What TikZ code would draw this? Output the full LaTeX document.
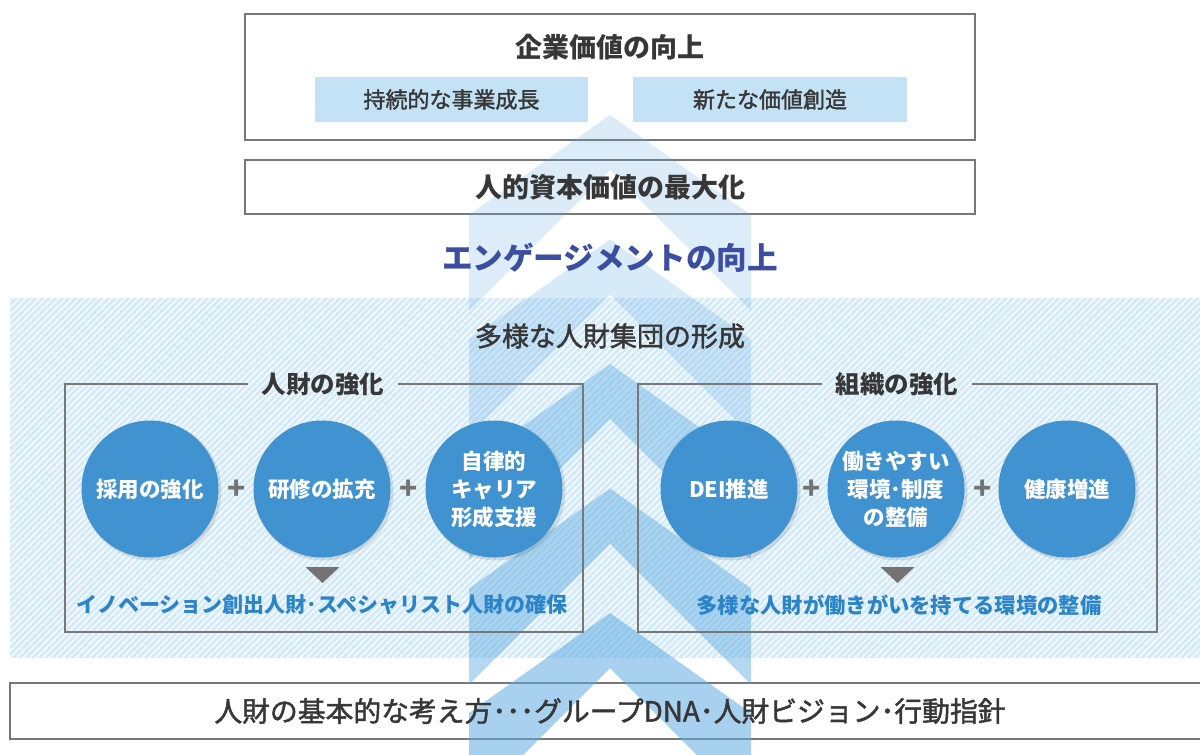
\documentclass[tikz,border=0pt]{standalone}
\usepackage{fontspec}
\setmainfont{Noto Sans CJK JP}
\newfontfamily\jpmed{Noto Sans CJK JP}[FakeBold=1.6]
\usetikzlibrary{calc}
\definecolor{boxgray}{RGB}{120,120,120}
\definecolor{txt}{RGB}{55,55,55}
\definecolor{subblue}{RGB}{196,226,245}
\definecolor{hatchbg}{RGB}{210,233,248}
\definecolor{chevc}{RGB}{95,172,226}
\definecolor{circblue}{RGB}{64,146,208}
\definecolor{engblue}{RGB}{60,78,160}
\definecolor{grpblue}{RGB}{44,132,200}
\definecolor{trigray}{RGB}{115,115,115}
\tikzset{
  box/.style={draw=boxgray, line width=1.3pt, fill=white, inner sep=0pt},
  subbox/.style={fill=subblue, inner sep=0pt, minimum width=273pt, minimum height=45pt},
  circ/.style={circle, fill=circblue, minimum size=137pt, inner sep=0pt},
  circtxt/.style={text=white, font=\bfseries\fontsize{21.5}{28}\selectfont, align=center},
  lbl/.style={text=txt, inner sep=0pt},
  grptitle/.style={text=txt, font=\bfseries\fontsize{24.5}{28}\selectfont, inner sep=14pt},
  grpline/.style={draw=boxgray, line width=1.1pt},
  plussign/.style={text=trigray, font=\bfseries\fontsize{30}{30}\selectfont, inner sep=0pt},
  grptxt/.style={text=grpblue, font=\bfseries\fontsize{21}{24}\selectfont, inner sep=0pt},
}
\begin{document}
\begin{tikzpicture}[x=1pt,y=-1pt]
\useasboundingbox (0,0) rectangle (1200,755);
% hatched background
\fill[hatchbg] (10,298) rectangle (1205,658);
\begin{scope}
\clip (10,298) rectangle (1205,658);
\foreach \i in {0,...,245} {
  \draw[white, line width=2pt, opacity=0.7] ({\i*6.6-360},658) -- ++(380,-380);
}
\end{scope}
% white boxes
\node[box, minimum width=730pt, minimum height=126pt] (topbox) at (610,77) {};
\node[box, minimum width=730pt, minimum height=54pt] (capbox) at (610,187) {};
\node[box, minimum width=1200pt, minimum height=56pt] (basebox) at (610,711) {};
% chevrons
\foreach \A/\o in {115/0.22, 239.5/0.25, 364/0.42, 488.5/0.47, 613/0.55} {
  \fill[chevc, opacity=\o] (469,\A+100) -- (610,\A) -- (751,\A+100) -- (751,\A+196)
     -- (610,\A+55) -- (469,\A+196) -- cycle;
}
% sub boxes
\node[subbox] (sub1) at (451.5,99.5) {};
\node[subbox, minimum width=274pt] (sub2) at (770,99.5) {};
% texts in top part
\node[lbl, font=\bfseries\fontsize{27}{30}\selectfont] (t1) at (610,47) {企業価値の向上};
\node[lbl, font=\jpmed\fontsize{22}{26}\selectfont] (t2) at (sub1) {持続的な事業成長};
\node[lbl, font=\jpmed\fontsize{22}{26}\selectfont] (t3) at (sub2) {新たな価値創造};
\node[lbl, font=\bfseries\fontsize{27}{30}\selectfont] (t4) at (capbox) {人的資本価値の最大化};
\node[text=engblue, inner sep=0pt, font=\bfseries\fontsize{30.6}{34}\selectfont] (eng) at (610,258) {エンゲージメントの向上};
\node[lbl, font=\jpmed\fontsize{27}{30}\selectfont] (div) at (610,336) {多様な人財集団の形成};
% group boxes
\node[grptitle] (g1) at (323,384) {人財の強化};
\node[grptitle] (g2) at (897,384) {組織の強化};
\draw[grpline] (g1.west) -- (65,384) -- (65,632) -- (583,632) -- (583,384) -- (g1.east);
\draw[grpline] (g2.west) -- (638,384) -- (638,632) -- (1157,632) -- (1157,384) -- (g2.east);
% circles
\foreach \n/\x in {c1/150, c2/322, c3/494, c4/729, c5/896, c6/1067} {
  \fill[black, opacity=0.10] (\x+2,491) circle (69.5);
  \node[circ] (\n) at (\x,489) {};
}
\node[circtxt] (ct1) at (c1) {採用の強化};
\node[circtxt] (ct2) at (c2) {研修の拡充};
\node[circtxt] (ct3) at (c3) {自律的\\キャリア\\形成支援};
\node[circtxt] (ct4) at (c4) {DEI推進};
\node[circtxt, font=\bfseries\fontsize{21.5}{28}\selectfont] (ct5) at (c5) {働きやすい\\環境･制度\\の整備};
\node[circtxt] (ct6) at (c6) {健康増進};
\node[plussign] (p1) at (237,490) {+};
\node[plussign] (p2) at (409,490) {+};
\node[plussign] (p3) at (812,490) {+};
\node[plussign] (p4) at (983,490) {+};
% triangles
\coordinate (tr1) at (322.5,567);
\coordinate (tr2) at (897.5,567);
\fill[trigray] ($(tr1)+(-17,0)$) -- ($(tr1)+(17,0)$) -- ($(tr1)+(0,16)$) -- cycle;
\fill[trigray] ($(tr2)+(-17,0)$) -- ($(tr2)+(17,0)$) -- ($(tr2)+(0,16)$) -- cycle;
\node[grptxt] (r1) at (322,605) {イノベーション創出人財･スペシャリスト人財の確保};
\node[grptxt, font=\bfseries\fontsize{21.3}{24}\selectfont] (r2) at (899,605) {多様な人財が働きがいを持てる環境の整備};
% base text
\node[lbl, font=\jpmed\fontsize{27.8}{30}\selectfont] (base) at (610,711) {人財の基本的な考え方･･･グループDNA･人財ビジョン･行動指針};
\end{tikzpicture}
\end{document}
